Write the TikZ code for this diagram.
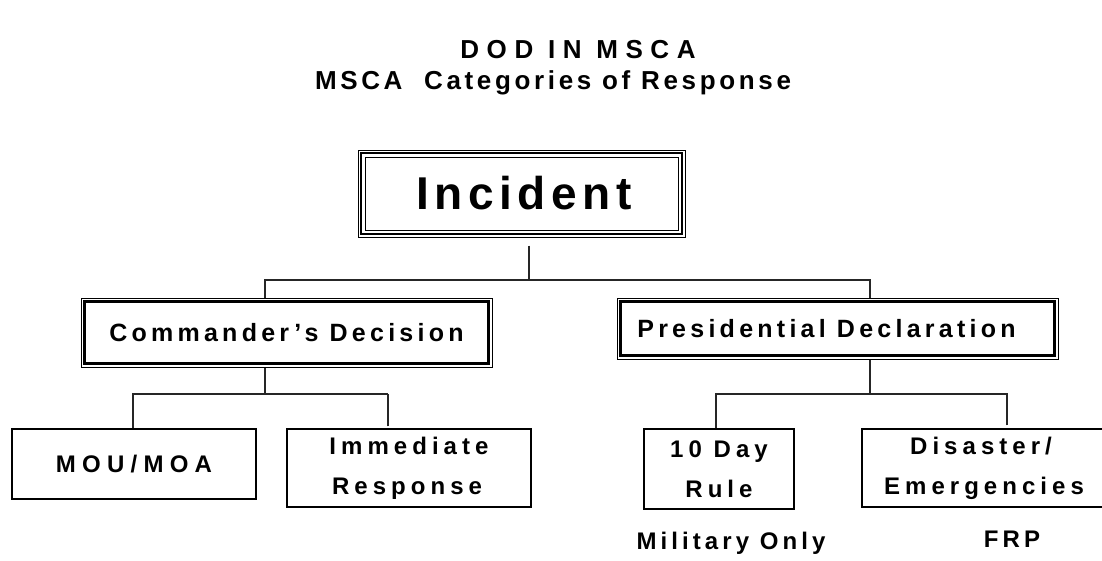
\documentclass[tikz,border=0pt]{standalone}
\usepackage{fontspec}
\setmainfont{Liberation Sans}
\usetikzlibrary{calc}
\newcommand{\spaced}[1]{\addfontfeature{LetterSpace=#1}}
\begin{document}
\begin{tikzpicture}[x=1pt,y=-1pt,
  treeline/.style={line width=1.3pt, draw=black!85},
  legthick/.style={line width=2.4pt, draw=black!85},
  leafbox/.style={draw, line width=1.3pt, inner sep=0pt, font=\bfseries\fontsize{24}{40}\selectfont\spaced{21}, align=center},
  midbox/.style={draw, line width=1pt, inner sep=0pt, font=\bfseries\fontsize{25}{28}\selectfont\spaced{17}},
  titletext/.style={font=\bfseries\fontsize{26}{28}\selectfont, inner sep=0pt},
  notetext/.style={font=\bfseries\fontsize{24}{26}\selectfont\spaced{17}, inner sep=0pt}
]
\useasboundingbox (0,0) rectangle (1102,560);
\fill[white] (0,0) rectangle (1102,560);

% heading
\node[titletext] (t1) at (578,50) {\spaced{29}DOD IN MSCA};
\node[titletext] (t2) at (553,83) {\spaced{14}MSCA\ \ Categories of Response};

% top node with triple frame
\node[draw, line width=1pt, minimum width=327pt, minimum height=87pt, inner sep=0pt,
      font=\bfseries\fontsize{46}{50}\selectfont\spaced{12}] (inc) at (521.5,193.5) {\hspace*{5pt}Incident};
\draw[line width=2.6pt] ($(inc.north west)+(3.6,3.6)$) rectangle ($(inc.south east)+(-3.6,-3.6)$);
\draw[line width=1pt] ($(inc.north west)+(7.5,7.5)$) rectangle ($(inc.south east)+(-7.5,-7.5)$);

% second level
\node[midbox, minimum width=411pt, minimum height=69pt] (cmd) at (286.5,332.5) {Commander’s Decision};
\draw[line width=3.4pt] ($(cmd.north west)+(4,4)$) rectangle ($(cmd.south east)+(-4,-4)$);
\node[midbox, minimum width=441pt, minimum height=61pt] (pres) at (837.5,328.5) {Presidential Declaration\hspace*{22pt}};
\draw[line width=3.4pt] ($(pres.north west)+(4,4)$) rectangle ($(pres.south east)+(-4,-4)$);

% leaves
\node[leafbox, minimum width=244pt, minimum height=70pt] (mou) at (134,464) {\spaced{26}MOU/MOA};
\node[leafbox, minimum width=244pt, minimum height=78pt] (imm) at (409,468) {Immediate\\Response\hspace*{4pt}};
\node[leafbox, minimum width=150pt, minimum height=80pt] (ten) at (719,469) {10 Day\\Rule};
\node[leafbox, minimum width=244pt, minimum height=78pt] (dis) at (984,468) {Disaster/\hspace*{6pt}\\Emergencies};

\node[notetext] (mil) at (731,543) {Military Only};
\node[notetext] (frp) at (1012,539) {FRP};

% junction points
\coordinate (j0) at (529,280);
\coordinate (jc) at (265,394);
\coordinate (jp) at (870,394);

% connectors
\draw[treeline] ($(inc.south)+(7.5,8)$) -- (j0);
\draw[treeline] (cmd.north -| jc) |- (j0) -| (pres.north -| jp);
\draw[treeline] (cmd.south -| jc) -- (jc);
\draw[treeline] (pres.south -| jp) -- (jp);
\draw[treeline] (mou.north -| 133,0) |- (jc) -- (jc -| 388,0);
\draw[legthick] (imm.north -| 388,0) ++(0,-2) -- (jc -| 388,0);
\draw[treeline] (ten.north -| 716,0) |- (jp) -- (jp -| 1008,0);
\draw[legthick] (dis.north -| 1007,0) ++(0,-3) -- (jp -| 1007,0);
\end{tikzpicture}
\end{document}
